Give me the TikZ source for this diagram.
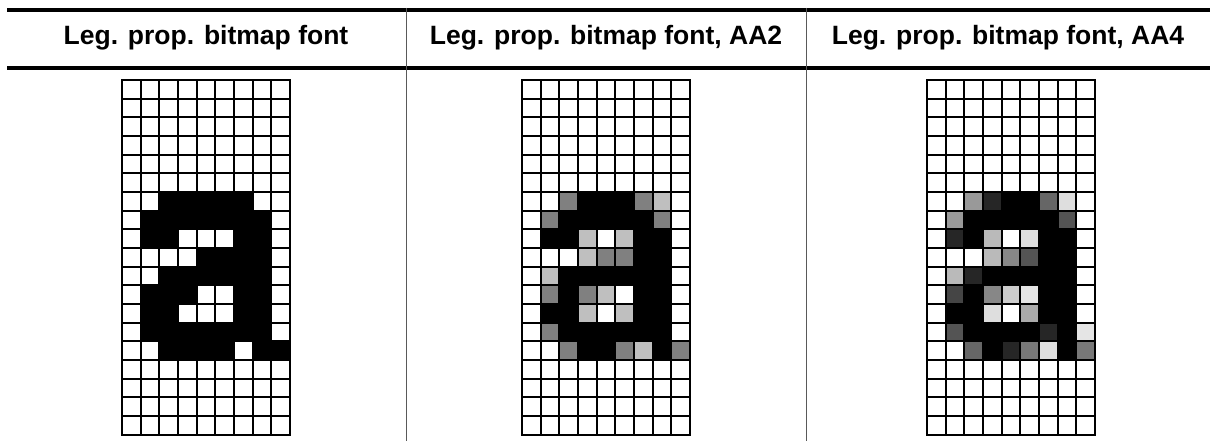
\documentclass[tikz,border=0pt]{standalone}
\usepackage{fontspec}
\setmainfont{Liberation Sans}
\usetikzlibrary{positioning}
\newcommand\pxsize{18.67}
% shaded rows 6..14 of one glyph, #1 = left edge of its grid
\newcommand\pixrows[2]{%
  \foreach \row [count=\r from 6] in {#2} {
    \foreach \v [count=\c from 0] in \row {
      \ifnum\v>0 \filldraw[cell, fill=black!\v] (#1+\c*\pxsize, 80+\r*\pxsize) rectangle ++(\pxsize,\pxsize);\fi
    }
  }}

\begin{document}
\begin{tikzpicture}[x=1pt, y=-1pt, font=\fontsize{26.5}{30}\selectfont\bfseries,
  rule/.style={line width=4pt},
  sep/.style={draw=black!65, line width=1pt},
  cell/.style={draw=black, line width=2.2pt},
  head/.style={inner sep=0pt}]
  \useasboundingbox (0,0) rectangle (1210,441);
  \draw[rule] (7,10) -- (1210,10);
  \draw[rule] (7,68.5) -- (1210,68.5);
  \draw[sep] (406,8) -- (406,441);
  \draw[sep] (806,8) -- (806,441);
  \node[head] (h1) at (206,38) {Leg. prop. bitmap font};
  \node[head] (h2) at (606,38) {Leg. prop. bitmap font, AA2};
  \node[head] (h3) at (1008,38) {Leg. prop. bitmap font, AA4};
  % empty grids
  \foreach \gx in {122,522,927}
    \foreach \r in {0,...,18}
      \foreach \c in {0,...,8}
        \draw[cell, fill=white] (\gx+\c*\pxsize, 80+\r*\pxsize) rectangle ++(\pxsize,\pxsize);
  % plain
  \pixrows{122}{{0,0,100,100,100,100,100,0,0},{0,100,100,100,100,100,100,100,0},
    {0,100,100,0,0,0,100,100,0},{0,0,0,0,100,100,100,100,0},
    {0,0,100,100,100,100,100,100,0},{0,100,100,100,0,0,100,100,0},
    {0,100,100,0,0,0,100,100,0},{0,100,100,100,100,100,100,100,0},
    {0,0,100,100,100,100,0,100,100}}
  % AA2
  \pixrows{522}{{0,0,50,100,100,100,50,25,0},{0,50,100,100,100,100,100,50,0},
    {0,100,100,25,0,25,100,100,0},{0,0,0,25,50,50,100,100,0},
    {0,25,100,100,100,100,100,100,0},{0,50,100,50,25,0,100,100,0},
    {0,100,100,25,0,25,100,100,0},{0,50,100,100,100,100,100,100,0},
    {0,0,50,100,100,50,25,100,50}}
  % AA4
  \pixrows{927}{{0,0,40,85,100,100,60,13,0},{0,40,100,100,100,100,100,67,0},
    {0,85,100,27,0,13,100,100,0},{0,0,0,27,47,67,100,100,0},
    {0,27,85,100,100,100,100,100,0},{0,73,100,47,20,10,100,100,0},
    {0,100,100,13,0,33,100,100,0},{0,67,100,100,100,100,85,100,10},
    {0,0,60,100,85,53,13,100,53}}
\end{tikzpicture}
\end{document}
